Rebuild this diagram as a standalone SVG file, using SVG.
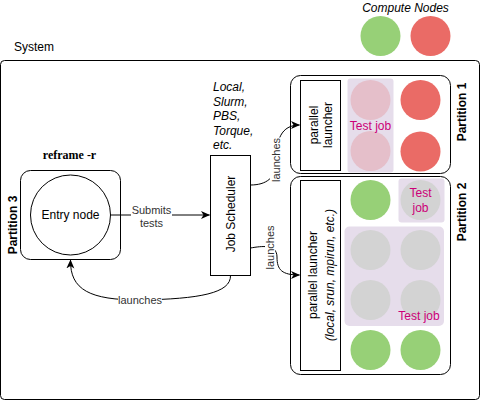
<svg xmlns="http://www.w3.org/2000/svg" width="481" height="401" viewBox="0 0 481 401">
<defs>
<marker id="arr" markerWidth="10" markerHeight="10" refX="8.5" refY="4" orient="auto" markerUnits="userSpaceOnUse"><path d="M0,0 L9,4 L0,8 L2.5,4 z" fill="#000"/></marker>
<style>
text{font-family:"Liberation Sans",Arial,Helvetica,sans-serif;font-size:12px;fill:#000;text-anchor:middle;dominant-baseline:central}
.box{fill:#fff;stroke:#000;stroke-width:1}
.edge{fill:none;stroke:#000;stroke-width:1}
.lbl{font-size:11px;fill:#333}
.bg{fill:#fff;stroke:none}
.it{font-style:italic}
.b{font-weight:bold}
.grn{fill:#97D077}
.red{fill:#EA6B66}
.pink{fill:#E5BFCA}
.gray{fill:#D3D3D3}
.purp{fill:#E6DDEB}
.tj{fill:#CC0077}
</style>
</defs>
<rect x="0" y="0" width="481" height="401" fill="#fff"/>

<g id="legend">
<text class="it" x="405.5" y="8">Compute Nodes</text>
<circle class="grn" cx="380.5" cy="36" r="20"/>
<circle class="red" cx="430.5" cy="36" r="20"/>
</g>

<g id="system">
<text x="14" y="47" style="text-anchor:start">System</text>
<rect class="box" x="0.5" y="60.5" width="479" height="339" rx="4"/>
<text class="b" transform="translate(13,225) rotate(-90)">Partition 3</text>
</g>

<g id="entry">
<text x="69.5" y="155" class="b" style="font-family:'Liberation Serif','Times New Roman',serif">reframe -r</text>
<rect class="box" x="20.5" y="170.5" width="100" height="89" rx="10"/>
<circle class="box" cx="70.5" cy="215" r="40"/>
<text x="70.5" y="215">Entry node</text>
</g>

<g id="scheduler-types">
<text class="it" x="213" y="87" style="text-anchor:start">Local,</text>
<text class="it" x="213" y="101.5" style="text-anchor:start">Slurm,</text>
<text class="it" x="213" y="116" style="text-anchor:start">PBS,</text>
<text class="it" x="213" y="130.5" style="text-anchor:start">Torque,</text>
<text class="it" x="213" y="145" style="text-anchor:start">etc.</text>
</g>

<g id="job-scheduler">
<rect class="box" x="210.5" y="155.5" width="40" height="120"/>
<text transform="translate(231,214) rotate(-90)">Job Scheduler</text>
</g>

<g id="partition1">
<rect class="box" x="290.5" y="75.5" width="160" height="98" rx="10"/>
<text class="b" transform="translate(462,112) rotate(-90)">Partition 1</text>
<rect class="box" x="300.5" y="80.5" width="40" height="90"/>
<text transform="translate(313.5,125) rotate(-90)">parallel</text>
<text transform="translate(327.5,125) rotate(-90)">launcher</text>
<rect class="purp" x="347.5" y="78.5" width="46" height="94" rx="3"/>
<circle class="pink" cx="370.5" cy="100" r="20"/>
<circle class="pink" cx="370.5" cy="151" r="20"/>
<text class="tj" x="370.5" y="126">Test job</text>
<circle class="red" cx="420.5" cy="100" r="20"/>
<circle class="red" cx="420.5" cy="151.5" r="20"/>
</g>

<g id="partition2">
<rect class="box" x="290.5" y="176.5" width="160" height="198" rx="10"/>
<text class="b" transform="translate(462,212) rotate(-90)">Partition 2</text>
<rect class="box" x="300.5" y="180.5" width="40" height="190"/>
<text transform="translate(312.5,275) rotate(-90)">parallel launcher</text>
<text class="it" transform="translate(329.5,275) rotate(-90)">(local, srun, mpirun, etc.)</text>
<circle class="grn" cx="370.5" cy="200" r="20"/>
<rect class="purp" x="398.5" y="178.5" width="46" height="44" rx="3"/>
<circle class="gray" cx="420.5" cy="200" r="20"/>
<text class="tj" x="420.5" y="193">Test</text>
<text class="tj" x="420.5" y="208">job</text>
<rect class="purp" x="344.5" y="226.5" width="99.5" height="99.5" rx="5"/>
<circle class="gray" cx="370.5" cy="250" r="20"/>
<circle class="gray" cx="420.5" cy="250" r="20"/>
<circle class="gray" cx="370.5" cy="300" r="20"/>
<circle class="gray" cx="420.5" cy="300" r="20"/>
<text class="tj" x="419" y="316">Test job</text>
<circle class="grn" cx="370.5" cy="350" r="20"/>
<circle class="grn" cx="420.5" cy="350" r="20"/>
</g>

<g id="connectors">
<path class="edge" d="M110.5 215 L209.5 215" marker-end="url(#arr)"/>
<rect class="bg" x="131" y="204" width="41" height="26"/>
<text class="lbl" x="151.5" y="210">Submits</text>
<text class="lbl" x="151.5" y="223">tests</text>

<path class="edge" d="M250.5 185 C266 185 276 178 276 162 C276 140 281 125 299.5 125" marker-end="url(#arr)"/>
<rect class="bg" x="270" y="137.5" width="11" height="45"/>
<text class="lbl" transform="translate(275.5,160) rotate(-90)">launches</text>

<path class="edge" d="M250.5 248 C262 246 277 244 277 257 C277 270 282 275 299.5 275" marker-end="url(#arr)"/>
<rect class="bg" x="265" y="225" width="10" height="45"/>
<text class="lbl" transform="translate(270,247.5) rotate(-90)">launches</text>

<path class="edge" d="M230.5 275.5 C231 293 200 299 140 300 C90 300 70 290 70.5 260" marker-end="url(#arr)"/>
<rect class="bg" x="118" y="294" width="44" height="12"/>
<text class="lbl" x="140" y="300">launches</text>
</g>
</svg>
